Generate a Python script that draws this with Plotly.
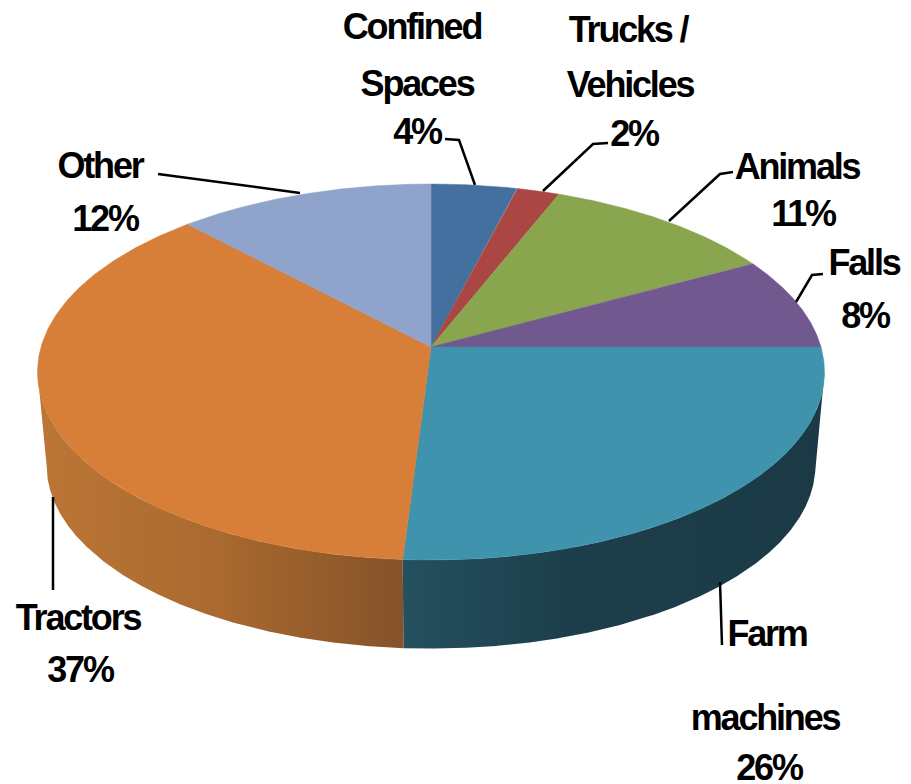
import numpy as np
import plotly.graph_objects as go

categories = ["Confined Spaces", "Trucks / Vehicles", "Animals", "Falls", "Farm machines", "Tractors", "Other"]
shares = [4, 2, 11, 8, 26, 37, 12]
top_colors = ["#44709f", "#aa4644", "#89a54e", "#71588f", "#3f93ad", "#d77e38", "#8fa3cb"]
label_lines = [["Confined", "Spaces", "4%"], ["Trucks /", "Vehicles", "2%"], ["Animals", "11%"], ["Falls", "8%"],
               ["Farm", "machines", "26%"], ["Tractors", "37%"], ["Other", "12%"]]
label_xy = [[(412, 26), (417, 83), (417, 131)], [(628, 29), (630, 84), (634, 133)], [(797, 166), (803, 213)],
            [(864, 262), (865, 315)], [(767, 633), (765, 717), (769, 767)], [(78, 617), (80, 669)],
            [(100, 165), (105, 218)]]
leader_x = [[445, 459, 475], [608, 593, 543], [733, 720, 669], [823, 812, 796], [720, 722], [53, 53], [158, 300]]
leader_y = [[139, 140, 185], [143, 144, 191], [172, 174, 221], [274, 275, 302], [582, 645], [497, 590], [174, 193]]


def rim(t, cy=347.0, rx=390.0, ry=184.7, k=0.133):
    u, v = np.sin(t), np.cos(t)
    d = 1 + k * v
    return 431 + rx * u / d, cy - ry * v / d


def lower(t):
    return rim(t, cy=441.0, rx=381.0, ry=180.0)


edges = np.radians(np.cumsum([0] + shares) * 3.6)
dense = np.linspace(0, 2 * np.pi, 3601)
fig = go.Figure()


def side(t0, t1, scale):
    tt = dense[(dense >= t0) & (dense <= t1)]
    xa, ya = rim(tt)
    xb, yb = lower(tt)
    fig.add_trace(go.Scatter(
        x=np.r_[xa, xb[::-1], xa[0]], y=np.r_[ya, yb[::-1], ya[0]], mode="lines", fill="toself",
        line=dict(width=0), fillgradient=dict(type="horizontal", colorscale=scale),
        hoverinfo="skip", showlegend=False))


xt, _ = rim(dense)
right_t = dense[np.argmax(xt)]
left_t = dense[np.argmin(xt)]
side(right_t, edges[5], [[0, "#25505f"], [0.4, "#1c3e4a"], [1, "#1b3a46"]])
side(edges[5], left_t, [[0, "#bc7636"], [0.5, "#a9692f"], [1, "#85522a"]])
for i, (name, color) in enumerate(zip(categories, top_colors)):
    tt = np.linspace(edges[i], edges[i + 1], 200)
    x, y = rim(tt)
    fig.add_trace(go.Scatter(
        x=np.r_[431, x, 431], y=np.r_[347, y, 347], mode="lines", fill="toself", fillcolor=color,
        line=dict(color=color, width=0.5), name=name, hoverinfo="name", showlegend=False))

for lx, ly in zip(leader_x, leader_y):
    fig.add_trace(go.Scatter(x=lx, y=ly, mode="lines", line=dict(color="black", width=2.5),
                             hoverinfo="skip", showlegend=False))

annotations = []
for lines, xy in zip(label_lines, label_xy):
    for text, (ax, ay) in zip(lines, xy):
        annotations.append(dict(x=ax, y=ay, text=f"<b>{text}</b>", showarrow=False, xanchor="center", yanchor="middle",
                                font=dict(family="Liberation Sans", size=36, color="black")))

fig.update_layout(
    width=911, height=784, margin=dict(l=0, r=0, t=0, b=0), paper_bgcolor="white", plot_bgcolor="white",
    xaxis=dict(range=[0, 911], visible=False), yaxis=dict(range=[784, 0], visible=False),
    annotations=annotations)
post = """
document.body.style.margin = '0';
document.body.style.overflow = 'hidden';
document.querySelectorAll('.annotation-text').forEach(function (t) {
  t.style.letterSpacing = '-2.2px';
});
"""
fig.write_html("out.html", config=dict(displayModeBar=False), post_script=post)
